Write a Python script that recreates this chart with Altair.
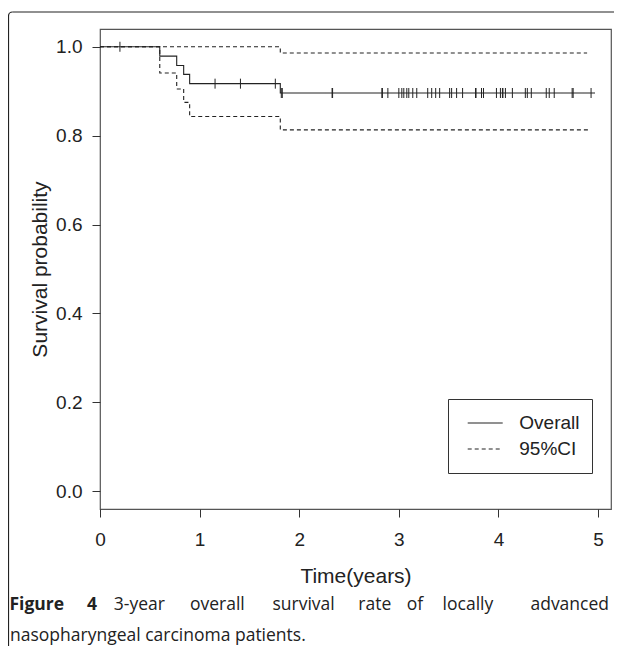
import altair as alt
import pandas as pd

# ---- data ----
overall_time = [0.0, 0.60, 0.77, 0.84, 0.90, 1.81, 4.97]
overall_surv = [1.000, 0.979, 0.958, 0.938, 0.917, 0.896, 0.896]
upper_time = [0.0, 0.60, 1.81, 4.89]
upper_surv = [1.000, 1.000, 0.986, 0.986]
lower_time = [0.0, 0.60, 0.77, 0.84, 0.90, 1.81, 4.91]
lower_surv = [1.000, 0.941, 0.905, 0.875, 0.843, 0.813, 0.813]
censor_time = [0.20, 1.155, 1.41, 1.76, 1.82, 1.83, 2.33, 2.335, 2.83, 2.835, 2.89,
               3.00, 3.03, 3.05, 3.08, 3.10, 3.14, 3.18, 3.29, 3.33, 3.37, 3.41,
               3.51, 3.53, 3.58, 3.64, 3.77, 3.775, 3.83, 3.85, 3.98, 4.02, 4.04,
               4.045, 4.07, 4.14, 4.27, 4.29, 4.33, 4.48, 4.51, 4.56, 4.74, 4.75, 4.93]
series_names = ["Overall", "95%CI"]
x_ticks = [0, 1, 2, 3, 4, 5]
y_ticks = [0.0, 0.2, 0.4, 0.6, 0.8, 1.0]
x_title = "Time(years)"
y_title = "Survival probability"
caption_bold_words = ["Figure", "4"]
caption_line1_words = ["3-year", "overall", "survival", "rate", "of", "locally", "advanced"]
caption_line2 = "nasopharyngeal carcinoma patients."

# ---- tables ----
rows = []
for name, line, ts, ss in [("Overall", "overall", overall_time, overall_surv),
                           ("95%CI", "upper", upper_time, upper_surv),
                           ("95%CI", "lower", lower_time, lower_surv)]:
    for t, s in zip(ts, ss):
        rows.append({"t": t, "s": s, "series": name, "line": line})
df_lines = pd.DataFrame(rows)


def surv_at(t):
    val = overall_surv[0]
    for tt, ss in zip(overall_time, overall_surv):
        if tt <= t:
            val = ss
    return val


df_cens = pd.DataFrame({"t": censor_time, "s": [surv_at(t) for t in censor_time]})
one = pd.DataFrame({"a": [0]})

INK = "#222222"
FONT = "Liberation Sans"
CAP_FONT = "Open Sans"
CAP_SIZE = 17.5

# --- justified first caption line: place words with even extra spacing ---
ADV = {" ": 532, "-": 659, "3": 1171, "4": 1171, "a": 1139, "c": 975, "d": 1255, "e": 1149,
       "f": 694, "g": 1122, "i": 518, "l": 518, "n": 1257, "o": 1237, "r": 836, "s": 977,
       "t": 723, "u": 1257, "v": 1026, "y": 1030, "F": 1145}
BOLD_ADV = {"F": 1155, "i": 590, "g": 1150, "u": 1305, "r": 889, "e": 1174, "4": 1171, " ": 532}


def width(word, table):
    return sum(table.get(c, 1100) for c in word) / 2048 * CAP_SIZE


line_left, line_right = -90.0, 509.0
words = [(w, True) for w in caption_bold_words] + [(w, False) for w in caption_line1_words]
natural = sum(width(w, BOLD_ADV if b else ADV) for w, b in words) + (len(words) - 1) * width(" ", ADV)
nchars = sum(len(w) for w, _ in words) + len(words) - 1
extra = (line_right - line_left - natural) / (nchars - 1)
word_rows = []
xpos = line_left
for i, (w, b) in enumerate(words):
    wl = width(w, BOLD_ADV if b else ADV)
    spread = wl + (len(w) - 1) * extra
    if i == 0:
        cx = line_left + wl / 2
    elif i == len(words) - 1:
        cx = line_right - wl / 2
    else:
        cx = xpos + spread / 2
    word_rows.append({"word": w, "x": cx, "bold": b})
    xpos += spread + extra + width(" ", ADV) + extra
df_words = pd.DataFrame(word_rows)

x_scale = alt.Scale(domain=[0, 5.13], nice=False, zero=False)
y_scale = alt.Scale(domain=[-0.04, 1.04], nice=False, zero=False)

x_axis = alt.Axis(values=x_ticks, format="d", title=x_title, domain=False, grid=False,
                  tickSize=8, labelPadding=13, labelFlush=False, titleY=73,
                  titleBaseline="alphabetic")
y_axis = alt.Axis(values=y_ticks, format=".1f", title=y_title, domain=False, grid=False,
                  tickSize=8, labelPadding=10, titleX=-53.5, titleY=240,
                  titleAngle=270, titleBaseline="alphabetic")

lines = alt.Chart(df_lines).mark_line(interpolate="step-after", strokeWidth=1.1, color=INK).encode(
    x=alt.X("t:Q", scale=x_scale, axis=x_axis),
    y=alt.Y("s:Q", scale=y_scale, axis=y_axis),
    strokeDash=alt.StrokeDash(
        "series:N",
        scale=alt.Scale(domain=series_names, range=[[1, 0], [4, 3]]),
        legend=alt.Legend(title=None, orient="none", legendX=348, legendY=370,
                          strokeColor="#333333", fillColor="white", padding=12,
                          symbolType="stroke", symbolSize=1225, symbolStrokeWidth=1.1,
                          symbolStrokeColor=INK, symbolOffset=6.7, clipHeight=24,
                          rowPadding=2, labelFontSize=19, labelFont=FONT, labelColor=INK,
                          labelOffset=15.6, cornerRadius=0),
    ),
    detail="line:N",
)

censors = alt.Chart(df_cens).mark_rule(color=INK, strokeWidth=1, yOffset=-5, y2Offset=5).encode(
    x=alt.X("t:Q", scale=x_scale),
    y=alt.Y("s:Q", scale=y_scale),
    y2="s:Q",
)

frame_top = alt.Chart(one).mark_rule(color=INK, strokeWidth=1.2).encode(
    x=alt.value(-87.5), x2=alt.value(530), y=alt.value(-17))
frame_left = alt.Chart(one).mark_rule(color=INK, strokeWidth=1.2).encode(
    x=alt.value(-91.5), y=alt.value(-13), y2=alt.value(617))
frame_corner = alt.Chart(one).mark_arc(radius=4.6, radius2=3.4, theta=4.712, theta2=6.283,
                                        color=INK).encode(x=alt.value(-87.5), y=alt.value(-13))

cap_words_bold = alt.Chart(df_words[df_words["bold"]]).mark_text(
    font=CAP_FONT, fontSize=CAP_SIZE, fontWeight="bold", color=INK,
    align="center", baseline="alphabetic").encode(
    x=alt.X("x:Q", scale=None), y=alt.value(581), text="word:N")
cap_words = alt.Chart(df_words[~df_words["bold"]]).mark_text(
    font=CAP_FONT, fontSize=CAP_SIZE, color=INK,
    align="center", baseline="alphabetic").encode(
    x=alt.X("x:Q", scale=None), y=alt.value(581), text="word:N")
cap_2 = alt.Chart(one).mark_text(font=CAP_FONT, fontSize=CAP_SIZE, color=INK,
                                 align="left", baseline="alphabetic").encode(
    x=alt.value(-90), y=alt.value(612), text=alt.value(caption_line2))

chart = alt.layer(lines, censors, frame_top, frame_left, frame_corner,
                  cap_words_bold, cap_words, cap_2).properties(
    width=511, height=480,
    padding={"left": 92, "top": 21, "right": 3, "bottom": 137},
    autosize=alt.AutoSizeParams(type="none"),
    background="white",
).configure_view(stroke="#555555", strokeWidth=1.2).configure_axis(
    labelFont=FONT, labelFontSize=19, labelColor=INK, tickColor="#333333", tickWidth=1,
    titleFont=FONT, titleFontSize=21, titleFontWeight="normal", titleColor=INK,
)

chart.save("out.html", embed_options={"renderer": "svg", "actions": False})
